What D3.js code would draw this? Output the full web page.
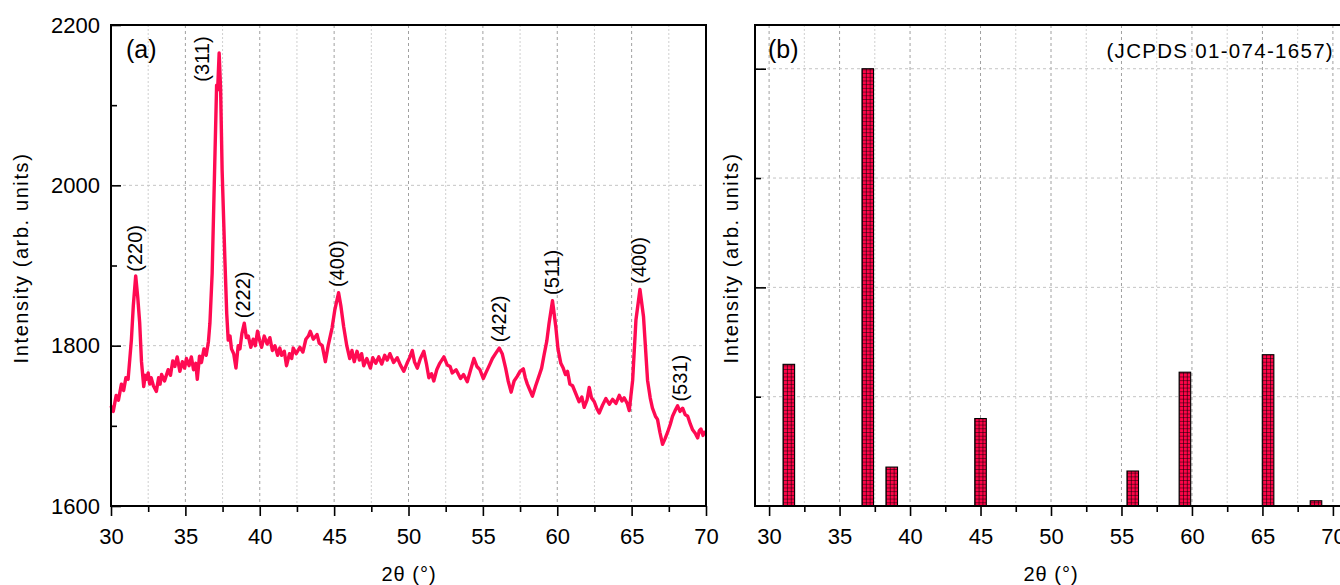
<!DOCTYPE html>
<html><head><meta charset="utf-8">
<script src="https://cdn.jsdelivr.net/npm/d3@7"></script>
<style>
html,body{margin:0;padding:0;background:#fff;}
svg{display:block;font-family:"Liberation Sans",Arial,Helvetica,sans-serif;}
</style></head>
<body>
<svg id="chart" width="1340" height="585"></svg>
<script>
// ---------- DATA ----------
const xrdTheta = [30.0,30.15,30.35,30.5,30.7,30.85,31.0,31.15,31.37,31.5,31.66,31.8,31.93,32.05,32.2,32.3,32.38,32.5,32.6,32.7,32.85,33.05,33.2,33.3,33.4,33.6,33.84,34.0,34.15,34.29,34.45,34.63,34.8,34.95,35.07,35.25,35.4,35.55,35.7,35.8,35.95,36.08,36.25,36.4,36.55,36.65,36.8,37.1,37.17,37.27,37.37,37.47,37.65,37.78,37.88,38.0,38.1,38.25,38.4,38.55,38.67,38.8,38.96,39.1,39.23,39.4,39.56,39.7,39.85,40.0,40.12,40.3,40.5,40.68,40.85,41.02,41.2,41.35,41.47,41.65,41.8,42.0,42.15,42.25,42.45,42.7,42.9,43.1,43.27,43.4,43.6,43.85,44.0,44.2,44.41,44.6,44.86,45.05,45.3,45.45,45.64,45.85,46.05,46.2,46.35,46.54,46.7,46.85,46.99,47.2,47.44,47.6,47.8,48.0,48.2,48.4,48.57,48.75,49.0,49.24,49.45,49.68,49.9,50.1,50.25,50.4,50.59,50.8,51.03,51.2,51.37,51.55,51.7,51.9,52.1,52.38,52.6,52.8,52.94,53.2,53.5,53.7,53.95,54.15,54.4,54.6,54.8,55.03,55.2,55.45,55.64,55.85,56.1,56.3,56.53,56.7,56.9,57.1,57.32,57.5,57.72,57.85,57.99,58.15,58.33,58.55,58.77,58.95,59.11,59.3,59.45,59.68,59.9,60.05,60.24,60.4,60.55,60.69,60.85,61.03,61.25,61.47,61.65,61.81,62.0,62.15,62.3,62.49,62.65,62.82,63.05,63.27,63.5,63.72,63.95,64.17,64.35,64.5,64.7,64.84,65.07,65.29,65.56,65.8,66.07,66.25,66.4,66.6,66.74,66.9,67.08,67.25,67.42,67.6,67.75,67.95,68.09,68.25,68.43,68.6,68.77,68.95,69.1,69.3,69.44,69.55,69.66,69.8,69.89,70.0];
const xrdIntensity = [1725,1718,1738,1732,1752,1744,1760,1758,1807,1850,1887,1860,1828,1780,1749,1763,1758,1766,1752,1760,1750,1743,1760,1752,1764,1756,1770,1763,1781,1774,1786,1768,1780,1772,1784,1775,1786,1770,1778,1758,1787,1779,1796,1788,1805,1828,1890,2125,2119,2165,2119,2019,1911,1840,1807,1812,1796,1790,1772,1800,1796,1815,1828,1810,1812,1798,1808,1800,1818,1806,1798,1812,1802,1810,1794,1800,1788,1797,1788,1793,1775,1790,1784,1797,1790,1798,1792,1808,1812,1818,1808,1814,1803,1800,1780,1800,1822,1845,1866,1850,1824,1800,1784,1794,1780,1793,1782,1790,1775,1784,1772,1785,1778,1786,1777,1788,1782,1790,1779,1785,1776,1768,1778,1786,1794,1780,1772,1784,1793,1778,1760,1765,1756,1770,1778,1786,1776,1774,1766,1770,1759,1764,1755,1768,1784,1774,1770,1759,1766,1776,1784,1790,1797,1790,1772,1756,1742,1756,1762,1768,1771,1760,1752,1745,1737,1750,1762,1772,1788,1806,1828,1856,1824,1796,1778,1772,1764,1768,1752,1750,1740,1730,1736,1723,1732,1748,1735,1730,1722,1716,1726,1734,1727,1733,1728,1738,1731,1735,1728,1719,1757,1832,1870,1836,1757,1735,1722,1712,1708,1692,1677,1684,1692,1702,1712,1720,1725,1718,1722,1714,1712,1702,1695,1690,1685,1694,1696,1688,1692,1690];

// Peak labels (hkl), and the peak maxima they belong to
const peakLabels = ["(220)","(311)","(222)","(400)","(422)","(511)","(400)","(531)"];
const peakTheta = [31.68,37.27,38.96,45.29,56.13,59.7,65.56,68.32];
const peakIntensity = [1886,2163,1828,1867,1798,1857,1871,1724];

// Panel (b): JCPDS 01-074-1657 reference lines (2θ, relative intensity)
const refTheta = [31.4,37.0,38.7,45.0,55.8,59.5,65.4,68.8];
const refIntensity = [32.4,100,8.9,20,8.0,30.6,34.6,1.2];

// Axis ticks
const xMajorTicks = [30,35,40,45,50,55,60,65,70];
const xMinorTicks = [32.5,37.5,42.5,47.5,52.5,57.5,62.5,67.5];
const yMajorTicksA = [1600,1800,2000,2200];
const yMinorTicksA = [1700,1900,2100];
const yMajorTicksB = [50,100];
const yMinorTicksB = [25,75];
const yGridB = [25,50,75,100];

// ---------- LAYOUT ----------
const svg = d3.select("#chart");
const pTop = 25, pBottom = 506;
const lineColor = "#ff0a52", barColor = "#ff0448";
const fontTick = 22, fontTitle = 20;

const xA = d3.scaleLinear().domain([30,70]).range([111,706]);
const yA = d3.scaleLinear().domain([1600,2200]).range([pBottom,pTop]);
const xB = d3.scaleLinear().domain([29,71]).range([755,1347]);
const yB = d3.scaleLinear().domain([0,110]).range([pBottom,pTop]);

function grid(g, x, y, hVals, x0, x1){
  g.selectAll(".vmin").data(xMinorTicks).join("line").attr("class","vmin")
    .attr("x1",d=>x(d)).attr("x2",d=>x(d)).attr("y1",pTop).attr("y2",pBottom)
    .attr("stroke","#cfcfcf").attr("stroke-width",1).attr("stroke-dasharray","2,2");
  g.selectAll(".vmaj").data(xMajorTicks).join("line").attr("class","vmaj")
    .attr("x1",d=>x(d)).attr("x2",d=>x(d)).attr("y1",pTop).attr("y2",pBottom)
    .attr("stroke","#a0a0a0").attr("stroke-width",1).attr("stroke-dasharray","3,3");
  g.selectAll(".hg").data(hVals).join("line").attr("class","hg")
    .attr("x1",x0).attr("x2",x1).attr("y1",d=>y(d)).attr("y2",d=>y(d))
    .attr("stroke","#c4c4c4").attr("stroke-width",1).attr("stroke-dasharray","3,3");
}

function xAxes(x){
  const gMaj = svg.append("g").attr("transform",`translate(0,${pBottom})`)
    .call(d3.axisBottom(x).tickValues(xMajorTicks).tickSize(10).tickPadding(12).tickFormat(d3.format("d")));
  const gMin = svg.append("g").attr("transform",`translate(0,${pBottom})`)
    .call(d3.axisBottom(x).tickValues(xMinorTicks).tickSize(6).tickFormat(""));
  [gMaj,gMin].forEach(g=>{
    g.select(".domain").remove();
    g.selectAll("line").attr("stroke","#000").attr("stroke-width",1.6);
  });
  gMaj.selectAll("text").attr("font-size",fontTick).attr("fill","#000")
    .attr("font-family","Liberation Sans, Arial, sans-serif");
}

// ---------- PANEL A ----------
const gA = svg.append("g");
grid(gA, xA, yA, [1800,2000], 111, 706);

const line = d3.line().x((d,i)=>xA(xrdTheta[i])).y((d,i)=>yA(xrdIntensity[i]));
gA.append("path").datum(xrdTheta).attr("d",line)
  .attr("fill","none").attr("stroke",lineColor).attr("stroke-width",3.4)
  .attr("stroke-linejoin","round");

const yAxMaj = svg.append("g").attr("transform","translate(111,0)")
  .call(d3.axisLeft(yA).tickValues(yMajorTicksA).tickSize(-10).tickPadding(11).tickFormat(d3.format("d")));
const yAxMin = svg.append("g").attr("transform","translate(111,0)")
  .call(d3.axisLeft(yA).tickValues(yMinorTicksA).tickSize(-6).tickFormat(""));
[yAxMaj,yAxMin].forEach(g=>{g.select(".domain").remove(); g.selectAll("line").attr("stroke","#000").attr("stroke-width",1.6);});
yAxMaj.selectAll("text").attr("font-size",fontTick).attr("fill","#000")
  .attr("font-family","Liberation Sans, Arial, sans-serif");
xAxes(xA);

svg.append("rect").attr("x",111).attr("y",pTop).attr("width",706-111).attr("height",pBottom-pTop)
  .attr("fill","none").attr("stroke","#000").attr("stroke-width",2);

peakLabels.forEach((lab,i)=>{
  let px = xA(peakTheta[i]) + 6, py = yA(peakIntensity[i]) - 5;
  if(i===1){ px = xA(peakTheta[i]) - 10; py = yA(peakIntensity[i]) + 27; }
  svg.append("text").attr("transform",`translate(${px},${py}) rotate(-90)`)
    .attr("font-size",fontTitle).attr("text-anchor","start").attr("fill","#000").text(lab);
});

svg.append("text").attr("x",126).attr("y",58).attr("font-size",25).text("(a)");
svg.append("text").attr("x",409).attr("y",581).attr("font-size",fontTitle).attr("text-anchor","middle")
  .attr("letter-spacing",1).text("2θ (°)");
svg.append("text").attr("transform","translate(28,258) rotate(-90)").attr("font-size",fontTitle)
  .attr("text-anchor","middle").attr("letter-spacing",1.6).text("Intensity (arb. units)");

// ---------- PANEL B ----------
const gB = svg.append("g");
grid(gB, xB, yB, yGridB, 755, 1347);

const bw = 0.82;
const defs = svg.append("defs");
refTheta.forEach((t,i)=>{
  const x0 = xB(t-bw/2), x1 = xB(t+bw/2), y0 = yB(refIntensity[i]);
  const cw = (x1-x0)/3, ch = 3.7;
  const p = defs.append("pattern").attr("id","cell"+i).attr("patternUnits","userSpaceOnUse")
    .attr("x",x0).attr("y",pBottom).attr("width",cw).attr("height",ch);
  p.append("rect").attr("width",cw).attr("height",ch).attr("fill",barColor);
  p.append("path").attr("d",`M0,0H${cw}M0,0V${ch}`).attr("stroke","#000").attr("stroke-width",1.1).attr("fill","none");
  gB.append("rect").attr("x",x0).attr("y",y0).attr("width",x1-x0).attr("height",pBottom-y0)
    .attr("fill",`url(#cell${i})`).attr("stroke","#000").attr("stroke-width",1.1);
});

const yBMaj = svg.append("g").attr("transform","translate(755,0)")
  .call(d3.axisLeft(yB).tickValues(yMajorTicksB).tickSize(-11).tickFormat(""));
const yBMin = svg.append("g").attr("transform","translate(755,0)")
  .call(d3.axisLeft(yB).tickValues(yMinorTicksB).tickSize(-6).tickFormat(""));
[yBMaj,yBMin].forEach(g=>{g.select(".domain").remove(); g.selectAll("line").attr("stroke","#000").attr("stroke-width",1.6);});
xAxes(xB);

svg.append("rect").attr("x",755).attr("y",pTop).attr("width",1347-755).attr("height",pBottom-pTop)
  .attr("fill","none").attr("stroke","#000").attr("stroke-width",2);

svg.append("text").attr("x",768).attr("y",58).attr("font-size",25).text("(b)");
svg.append("text").attr("x",1334).attr("y",58).attr("font-size",20.5).attr("text-anchor","end")
  .attr("letter-spacing",1.3).text("(JCPDS 01-074-1657)");
svg.append("text").attr("x",1051).attr("y",581).attr("font-size",fontTitle).attr("text-anchor","middle")
  .attr("letter-spacing",1).text("2θ (°)");
svg.append("text").attr("transform","translate(738,258) rotate(-90)").attr("font-size",fontTitle)
  .attr("text-anchor","middle").attr("letter-spacing",1.6).text("Intensity (arb. units)");
</script>
</body></html>
